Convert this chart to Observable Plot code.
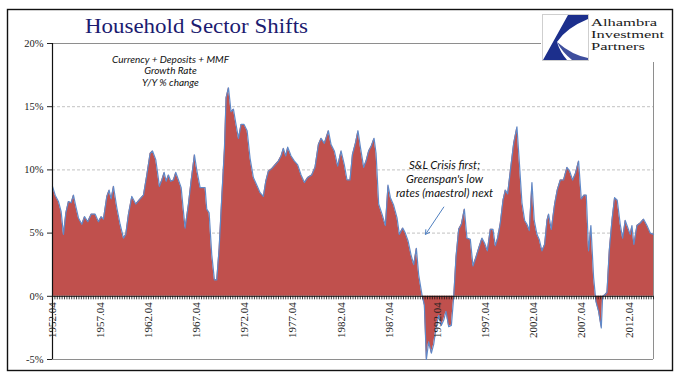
<!DOCTYPE html>
<html>
<head>
<meta charset="utf-8">
<script src="https://cdn.jsdelivr.net/npm/d3@7"></script>
<script src="https://cdn.jsdelivr.net/npm/@observablehq/plot@0.6"></script>
<style>
  html, body { margin: 0; padding: 0; background: white; }
  #chart { width: 687px; height: 381px; }
</style>
</head>
<body>
<div id="chart"></div>
<script>
const dates = [
  1952.25,1952.53,1952.87,1953.15,1953.39,1953.64,1953.91,1954.19,1954.43,1954.68,
  1954.95,1955.30,1955.58,1955.92,1956.27,1956.69,1957.03,1957.31,1957.55,1957.90,
  1958.14,1958.35,1958.59,1958.94,1959.28,1959.63,1959.87,1960.15,1960.50,1960.91,
  1961.36,1961.71,1962.06,1962.40,1962.65,1962.99,1963.37,1963.62,1963.86,1964.07,
  1964.31,1964.55,1964.83,1965.07,1965.35,1965.63,1965.83,1966.04,1966.39,1966.66,
  1967.01,1967.25,1967.60,1967.95,1968.12,1968.29,1968.54,1968.81,1969.09,1969.33,
  1969.58,1969.85,1970.13,1970.30,1970.55,1970.82,1971.07,1971.31,1971.59,1971.86,
  1972.17,1972.49,1972.80,1973.14,1973.49,1973.84,1974.18,1974.43,1974.70,1975.05,
  1975.40,1975.74,1976.02,1976.26,1976.51,1976.71,1977.06,1977.41,1977.75,1978.10,
  1978.45,1978.79,1979.21,1979.55,1979.90,1980.18,1980.52,1980.94,1981.22,1981.56,
  1981.91,1982.26,1982.60,1982.88,1983.19,1983.44,1983.75,1984.02,1984.27,1984.61,
  1984.86,1985.13,1985.41,1985.69,1985.90,1986.17,1986.52,1986.87,1987.14,1987.39,
  1987.73,1988.08,1988.32,1988.67,1988.94,1989.22,1989.53,1989.81,1990.09,1990.33,
  1990.68,1990.92,1991.13,1991.37,1991.65,1991.89,1992.13,1992.41,1992.69,1992.93,
  1993.17,1993.45,1993.73,1993.97,1994.21,1994.49,1994.77,1995.08,1995.35,1995.70,
  1995.98,1996.29,1996.57,1996.91,1997.19,1997.47,1997.78,1998.06,1998.30,1998.54,
  1998.82,1999.10,1999.34,1999.58,1999.86,2000.21,2000.55,2000.79,2001.07,2001.35,
  2001.59,2001.83,2002.11,2002.35,2002.63,2002.87,2003.15,2003.43,2003.67,2003.84,
  2004.12,2004.47,2004.74,2005.06,2005.40,2005.75,2006.03,2006.34,2006.62,2006.96,
  2007.24,2007.52,2007.76,2008.00,2008.24,2008.52,2008.76,2009.04,2009.32,2009.46,
  2009.67,2009.91,2010.15,2010.43,2010.70,2010.98,2011.29,2011.54,2011.81,2012.09,
  2012.33,2012.51,2012.71,2013.03,2013.37,2013.72,2014.07,2014.41,2014.75
];
const growth = [
  8.7,8.0,7.5,6.7,4.9,6.6,7.5,7.4,8.0,7.1,
  6.2,5.7,6.3,5.9,6.5,6.5,5.9,6.3,6.1,7.9,
  8.4,7.7,8.7,7.0,5.7,4.6,4.9,6.5,7.9,7.3,
  7.7,8.0,9.6,11.3,11.5,10.8,8.7,9.2,9.8,9.1,
  9.6,9.1,9.2,9.8,9.2,8.6,7.0,5.4,7.3,9.1,
  11.2,10.0,8.6,8.6,8.6,6.9,6.6,3.3,1.3,1.3,
  3.8,7.8,11.7,15.7,16.5,14.6,14.8,13.7,12.5,13.6,
  13.6,13.1,10.9,9.4,8.8,8.2,7.9,9.1,9.9,10.1,
  10.4,10.7,11.1,11.7,11.1,11.8,11.1,10.7,10.4,9.6,
  9.0,9.4,9.6,10.2,12.0,12.5,12.1,13.1,12.0,11.5,
  10.3,11.5,10.4,9.2,9.2,11.2,12.1,13.1,11.8,10.2,
  10.7,11.5,11.9,12.5,11.3,7.3,6.5,5.6,8.8,7.8,
  7.2,6.2,4.9,5.4,5.0,4.4,3.3,2.5,3.8,1.7,
  0.1,-0.7,-5.0,-3.6,-4.5,-3.8,-2.5,-1.5,-2.3,-1.9,
  -1.2,-2.4,-2.3,-0.1,3.1,5.3,5.7,6.9,4.6,4.5,
  2.4,3.1,3.8,4.6,4.2,3.6,5.3,5.3,4.0,4.6,
  5.8,7.6,8.4,8.1,9.9,12.1,13.4,10.7,7.4,6.0,
  5.7,5.2,9.0,6.0,4.9,4.5,3.6,4.1,6.0,6.5,
  5.3,7.3,8.4,9.2,9.2,10.2,9.9,9.2,9.7,10.7,
  7.7,8.0,8.0,3.6,5.6,1.5,-0.4,-1.2,-2.5,0.0,
  0.1,0.3,3.6,6.0,7.8,7.6,5.7,4.6,6.0,5.4,
  4.9,5.6,4.1,5.6,5.8,6.1,5.6,5.0,4.9
];
const yTicks = [-5, 0, 5, 10, 15, 20];
const gridValues = [5, 10, 15];
const labelYears = [1952.25, 1957.25, 1962.25, 1967.25, 1972.25, 1977.25, 1982.25, 1987.25, 1992.25, 1997.25, 2002.25, 2007.25, 2012.25];
const labelTexts = ["1952.04","1957.04","1962.04","1967.04","1972.04","1977.04","1982.04","1987.04","1992.04","1997.04","2002.04","2007.04","2012.04"];
const noteTopLeft = "Currency + Deposits + MMF\nGrowth Rate\nY/Y % change";
const noteCrisis = "S&L Crisis first;\nGreenspan's low\nrates (maestrol) next";
const titleText = "Household Sector Shifts";
const logoLines = ["Alhambra", "Investment", "Partners"];

const xStart = 1952.25, xEnd = 2014.75;
const data = dates.map((d, i) => ({date: d, value: growth[i]}));
const quarters = d3.range(0, Math.round((xEnd - xStart) * 4) + 1).map(i => xStart + i / 4);
const labels = labelYears.map((d, i) => ({x: d, text: labelTexts[i]}));

const chart = Plot.plot({
  width: 687,
  height: 381,
  marginLeft: 52,
  marginRight: 34,
  marginTop: 43,
  marginBottom: 22,
  style: {background: "white", fontFamily: "Liberation Serif", fontSize: "10.5px", color: "#222", overflow: "visible"},
  x: {domain: [xStart, xEnd], axis: null},
  y: {domain: [-5, 20], ticks: yTicks, tickFormat: d => d + "%", tickSize: 5, tickPadding: 4, label: null},
  marks: [
    Plot.ruleY(gridValues, {stroke: "#a8a8a8", strokeWidth: 0.7, strokeDasharray: "3,2"}),
    Plot.ruleY([20, -5], {stroke: "#8e8e8e", strokeWidth: 1}),
    Plot.ruleX([xEnd], {stroke: "#8e8e8e", strokeWidth: 1}),
    Plot.areaY(data, {x: "date", y: "value", fill: "#c0504d"}),
    Plot.lineY(data, {x: "date", y: "value", stroke: "#6089c8", strokeWidth: 1.2}),
    Plot.ruleX(quarters, {x: d => d, y1: 0, y2: -0.28, stroke: "#111", strokeWidth: 0.8}),
    Plot.ruleY([0], {stroke: "#111", strokeWidth: 1}),
    Plot.ruleX([xStart], {stroke: "#111", strokeWidth: 1.2}),
    Plot.text(labels, {x: "x", y: 0, text: "text", rotate: -90, textAnchor: "end", dy: 6, fontSize: 11, fill: "#222"}),
    Plot.text([noteTopLeft], {x: [1964.52], y: [19.13], text: d => d, lineAnchor: "top", lineHeight: 1.15,
      fontFamily: "Lato", fontStyle: "italic", fontSize: 10, fill: "#111"}),
    Plot.text([noteCrisis], {x: [1993.02], y: [10.88], text: d => d, lineAnchor: "top", lineHeight: 1.22,
      fontFamily: "Lato", fontStyle: "italic", fontSize: 11.5, fill: "#111"}),
    Plot.arrow([{x1: 1992.94, y1: 7.06, x2: 1991.04, y2: 4.9}], {x1: "x1", y1: "y1", x2: "x2", y2: "y2",
      stroke: "#4f7fc0", strokeWidth: 1, headLength: 7, bend: 0})
  ]
});

const svg = d3.select(chart);
// outer border
svg.append("rect").attr("x", 7.5).attr("y", 9.5).attr("width", 665).attr("height", 361)
  .attr("fill", "none").attr("stroke", "#111").attr("stroke-width", 1.4);
// title
svg.append("text").attr("x", 85).attr("y", 33).attr("fill", "#1b1b70").attr("text-anchor", "start")
  .attr("font-family", "Liberation Serif").attr("font-size", 20)
  .attr("textLength", 223).attr("lengthAdjust", "spacingAndGlyphs").text(titleText);
// logo
const logo = svg.append("g").attr("text-anchor", "start");
logo.append("rect").attr("x", 541).attr("y", 12).attr("width", 127).attr("height", 50).attr("fill", "white");
logo.append("rect").attr("x", 542.5).attr("y", 14.5).attr("width", 46).attr("height", 46)
  .attr("fill", "white").attr("stroke", "#cfcfcf");
logo.append("path")
  .attr("d", "M568,15 L588,15 L588,19 Q566,28 557,42 Q560,52 567,60 L543,60 Z")
  .attr("fill", "#1c2f8c");
logo.append("path")
  .attr("d", "M557,42 Q572,55 588,58 L588,60 L572,60 Q562,52 557,42 Z")
  .attr("fill", "#1c2f8c").attr("opacity", 0.85);
const logoBaselines = [26, 38, 50];
const logoWidths = [66, 73, 54];
logoLines.forEach((t, i) => {
  logo.append("text").attr("x", 591).attr("y", logoBaselines[i]).attr("fill", "#1a1a1a")
    .attr("text-anchor", "start")
    .attr("font-family", "Liberation Serif").attr("font-size", 10.5)
    .attr("textLength", logoWidths[i]).attr("lengthAdjust", "spacingAndGlyphs").text(t);
});

document.getElementById("chart").appendChild(chart);
</script>
</body>
</html>
